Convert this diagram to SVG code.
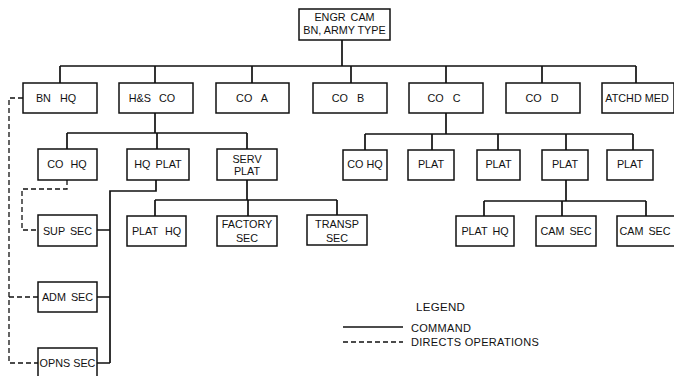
<svg xmlns="http://www.w3.org/2000/svg" width="674" height="376" viewBox="0 0 674 376">
<style>
.box{fill:#fff;stroke:#111;stroke-width:1.5}
.t{font-family:"Liberation Sans",Arial,sans-serif;font-size:10.8px;fill:#111;text-anchor:middle;word-spacing:2px}
.lg{font-family:"Liberation Sans",Arial,sans-serif;font-size:11px;fill:#111;letter-spacing:0.3px}
.cmd{fill:none;stroke:#111;stroke-width:1.7}
.dir{fill:none;stroke:#111;stroke-width:1.3;stroke-dasharray:5 3}
</style>
<rect width="674" height="376" fill="#fff"/>
<g id="connectors">
<path class="cmd" d="M342 40V66M60 66H636M60 66V83M155 66V83M252 66V83M351 66V83M446 66V83M542 66V83M636 66V83"/>
<path class="cmd" d="M155 113V133M67 133H247M67 133V149M157 133V149M247 133V149"/>
<path class="cmd" d="M446 113V134M365 134H633M365 134V150M432 134V150M498 134V150M566 134V150M633 134V150"/>
<path class="cmd" d="M156 180V191H110V363M97 230H110M97 297H110M97 363H110"/>
<path class="cmd" d="M247 180V200M155 200H337M155 200V216M248 200V216M337 200V216"/>
<path class="cmd" d="M566 180V201M484 201H646M484 201V216M562 201V216M646 201V216"/>
<path class="dir" d="M23 98H9V363H38M9 297H38"/>
<path class="dir" d="M67 180V189H22V230H38"/>
</g>
<g id="n-engr"><rect class="box" x="299" y="9" width="91" height="31"/><text class="t" x="344.5" y="21">ENGR CAM</text><text class="t" x="344.5" y="34" style="word-spacing:0">BN, ARMY TYPE</text></g>
<g id="n-bnhq"><rect class="box" x="23" y="83" width="74" height="30"/><text class="t" x="56" y="102" style="word-spacing:6px">BN HQ</text></g>
<g id="n-hs"><rect class="box" x="119" y="83" width="74" height="30"/><text class="t" x="152" y="102" style="word-spacing:5px">H&amp;S CO</text></g>
<g id="n-coa"><rect class="box" x="216" y="83" width="73" height="30"/><text class="t" x="252" y="102" style="word-spacing:6px">CO A</text></g>
<g id="n-cob"><rect class="box" x="313" y="83" width="74" height="30"/><text class="t" x="348" y="102" style="word-spacing:6px">CO B</text></g>
<g id="n-coc"><rect class="box" x="409" y="83" width="74" height="30"/><text class="t" x="444" y="102" style="word-spacing:6px">CO C</text></g>
<g id="n-cod"><rect class="box" x="506" y="83" width="74" height="30"/><text class="t" x="542" y="102" style="word-spacing:6px">CO D</text></g>
<g id="n-atchd"><rect class="box" x="602" y="83" width="72" height="30"/><text class="t" x="637" y="102" style="word-spacing:0">ATCHD MED</text></g>
<g id="n-cohq1"><rect class="box" x="38" y="149" width="59" height="31"/><text class="t" x="67" y="168" style="word-spacing:4px">CO HQ</text></g>
<g id="n-hqplat"><rect class="box" x="127" y="149" width="62" height="31"/><text class="t" x="158" y="168">HQ PLAT</text></g>
<g id="n-servplat"><rect class="box" x="217" y="149" width="60" height="31"/><text class="t" x="247" y="163">SERV</text><text class="t" x="247" y="175">PLAT</text></g>
<g id="n-cohq2"><rect class="box" x="343" y="150" width="44" height="30"/><text class="t" x="365" y="168" style="word-spacing:0">CO HQ</text></g>
<g id="n-plat1"><rect class="box" x="408" y="150" width="46" height="30"/><text class="t" x="431" y="168">PLAT</text></g>
<g id="n-plat2"><rect class="box" x="477" y="150" width="43" height="30"/><text class="t" x="498.5" y="168">PLAT</text></g>
<g id="n-plat3"><rect class="box" x="542" y="150" width="46" height="30"/><text class="t" x="565" y="168">PLAT</text></g>
<g id="n-plat4"><rect class="box" x="607" y="150" width="46" height="30"/><text class="t" x="630" y="168">PLAT</text></g>
<g id="n-supsec"><rect class="box" x="38" y="215" width="59" height="31"/><text class="t" x="67.5" y="235">SUP SEC</text></g>
<g id="n-admsec"><rect class="box" x="38" y="282" width="59" height="30"/><text class="t" x="67.5" y="301">ADM SEC</text></g>
<g id="n-opnssec"><rect class="box" x="38" y="348" width="59" height="32"/><text class="t" x="67.5" y="367" style="word-spacing:0">OPNS SEC</text></g>
<g id="n-plathq1"><rect class="box" x="127" y="216" width="59" height="30"/><text class="t" x="156.5" y="235" style="word-spacing:4px">PLAT HQ</text></g>
<g id="n-factory"><rect class="box" x="217" y="216" width="60" height="30"/><text class="t" x="247" y="228">FACTORY</text><text class="t" x="247" y="242">SEC</text></g>
<g id="n-transp"><rect class="box" x="307" y="215" width="60" height="30"/><text class="t" x="337" y="228">TRANSP</text><text class="t" x="337" y="242">SEC</text></g>
<g id="n-plathq2"><rect class="box" x="456" y="216" width="58" height="30"/><text class="t" x="485" y="235">PLAT HQ</text></g>
<g id="n-camsec1"><rect class="box" x="536" y="216" width="60" height="30"/><text class="t" x="566" y="235">CAM SEC</text></g>
<g id="n-camsec2"><rect class="box" x="617" y="216" width="60" height="30"/><text class="t" x="645" y="235">CAM SEC</text></g>
<g id="legend">
<text class="lg" x="416" y="311" style="font-size:11.5px">LEGEND</text>
<line class="cmd" x1="343" y1="327" x2="403" y2="327"/>
<text class="lg" x="411" y="332">COMMAND</text>
<line class="dir" x1="343" y1="342" x2="403" y2="342"/>
<text class="lg" x="411" y="346">DIRECTS OPERATIONS</text>
</g>
</svg>
